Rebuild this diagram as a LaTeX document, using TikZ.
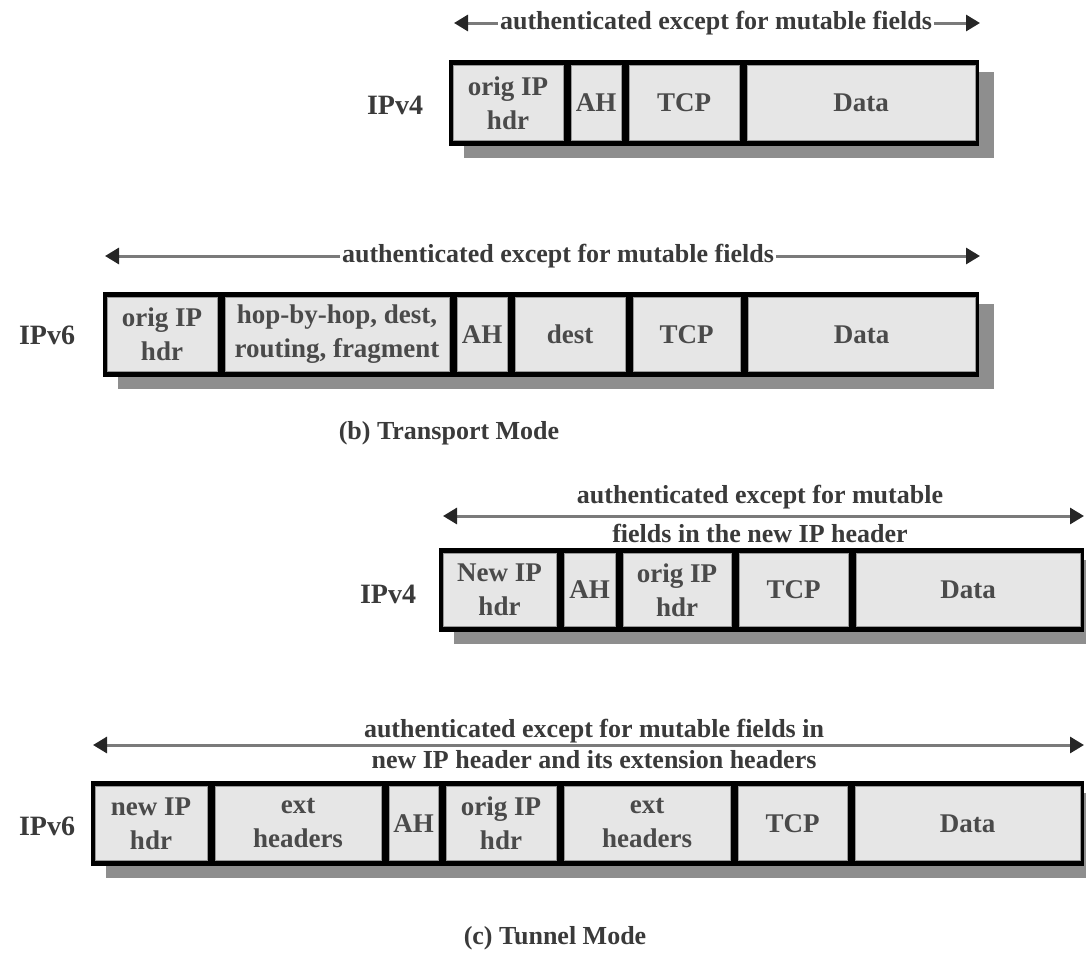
\documentclass[tikz,border=0pt]{standalone}
\usepackage{fontspec}
\setmainfont{Liberation Serif}
\usetikzlibrary{arrows.meta}
\definecolor{cellfill}{HTML}{E6E6E6}
\definecolor{celledge}{HTML}{9A9A9A}
\definecolor{shadowc}{HTML}{8E8E8E}
\definecolor{linec}{HTML}{7A7A7A}
\definecolor{celltext}{HTML}{4A4A4A}
\definecolor{labeltext}{HTML}{3A3A3A}
\tikzset{
  cellbox/.style={draw=celledge, line width=1pt, fill=cellfill, inner sep=0pt,
    align=center, text=celltext, font=\bfseries\fontsize{27}{34}\selectfont},
  framebox/.style={fill=black, inner sep=0pt, draw=none},
  shadowbox/.style={fill=shadowc, inner sep=0pt, draw=none},
  dimline/.style={draw=linec, line width=3pt,
    {Triangle[length=14pt,width=16pt,color=black!85]}-{Triangle[length=14pt,width=16pt,color=black!85]}},
  arrlabel/.style={inner sep=2pt, text=labeltext, font=\bfseries\fontsize{26}{30}\selectfont},
  rowlabel/.style={inner sep=0pt, text=labeltext, font=\bfseries\fontsize{28}{32}\selectfont},
  captext/.style={inner sep=0pt, text=labeltext, font=\bfseries\fontsize{26}{30}\selectfont}
}
% frame: name, x0, x1, y0, y1
\newcommand{\pktframe}[5]{%
  \node[shadowbox, minimum width={#3-#2}, minimum height={#5-#4}] (#1s) at ({(#2+#3)/2+15},{(#4+#5)/2+12}) {};
  \node[framebox, minimum width={#3-#2}, minimum height={#5-#4}] (#1) at ({(#2+#3)/2},{(#4+#5)/2}) {};}
% cell: name, x0, x1, y0, y1, text
\newcommand{\pktcell}[6]{%
  \node[cellbox, minimum width={#3-#2-8}, minimum height={#5-#4-11}] (#1) at ({(#2+#3)/2},{(#4+#5)/2}) {#6};}
\begin{document}
\begin{tikzpicture}[x=1pt,y=-1pt]
\useasboundingbox (0,0) rectangle (1086,956);

% ---------- Row 1: IPv4 transport ----------
\coordinate (a1l) at (454,23);
\coordinate (a1r) at (980,23);
\draw[dimline] (a1l) -- (a1r);
\node[arrlabel, fill=white] (t1) at (716,23) {authenticated except for mutable fields};
\pktframe{f1}{449}{979}{60}{146}
\pktcell{r1a}{449}{567}{60}{146}{orig IP\\hdr}
\pktcell{r1b}{567}{625}{60}{146}{AH}
\pktcell{r1c}{625}{743}{60}{146}{TCP}
\pktcell{r1d}{743}{979}{60}{146}{Data}
\node[rowlabel] (l1) at (395,105) {IPv4};

% ---------- Row 2: IPv6 transport ----------
\coordinate (a2l) at (105,256);
\coordinate (a2r) at (980,256);
\draw[dimline] (a2l) -- (a2r);
\node[arrlabel, fill=white] (t2) at (558,256) {authenticated except for mutable fields};
\pktframe{f2}{103}{979}{292}{377}
\pktcell{r2a}{103}{221}{292}{377}{orig IP\\hdr}
\pktcell{r2b}{221}{453}{292}{377}{hop-by-hop, dest,\\routing, fragment}
\pktcell{r2c}{453}{511}{292}{377}{AH}
\pktcell{r2d}{511}{629}{292}{377}{dest}
\pktcell{r2e}{629}{744}{292}{377}{TCP}
\pktcell{r2f}{744}{979}{292}{377}{Data}
\node[rowlabel] (l2) at (47,335) {IPv6};
\node[captext] (cb) at (449,433) {(b) Transport Mode};

% ---------- Row 3: IPv4 tunnel ----------
\coordinate (a3l) at (443,516);
\coordinate (a3r) at (1084,516);
\draw[dimline] (a3l) -- (a3r);
\node[arrlabel] (t3a) at (760,497) {authenticated except for mutable};
\node[arrlabel] (t3b) at (760,533) {fields in the new IP header};
\pktframe{f3}{439}{1084}{548}{632}
\pktcell{r3a}{439}{560}{548}{632}{New IP\\hdr}
\pktcell{r3b}{560}{619}{548}{632}{AH}
\pktcell{r3c}{619}{735}{548}{632}{orig IP\\hdr}
\pktcell{r3d}{735}{852}{548}{632}{TCP}
\pktcell{r3e}{852}{1084}{548}{632}{Data}
\node[rowlabel] (l3) at (388,594) {IPv4};

% ---------- Row 4: IPv6 tunnel ----------
\coordinate (a4l) at (93,745);
\coordinate (a4r) at (1084,745);
\draw[dimline] (a4l) -- (a4r);
\node[arrlabel] (t4a) at (594,731) {authenticated except for mutable fields in};
\node[arrlabel] (t4b) at (594,760) {new IP header and its extension headers};
\pktframe{f4}{91}{1084}{781}{866}
\pktcell{r4a}{91}{211}{781}{866}{new IP\\hdr}
\pktcell{r4b}{211}{385}{781}{866}{ext\\headers}
\pktcell{r4c}{385}{442}{781}{866}{AH}
\pktcell{r4d}{442}{560}{781}{866}{orig IP\\hdr}
\pktcell{r4e}{560}{734}{781}{866}{ext\\headers}
\pktcell{r4f}{734}{851}{781}{866}{TCP}
\pktcell{r4g}{851}{1084}{781}{866}{Data}
\node[rowlabel] (l4) at (47,826) {IPv6};
\node[captext] (cc) at (555,938) {(c) Tunnel Mode};
\end{tikzpicture}
\end{document}
